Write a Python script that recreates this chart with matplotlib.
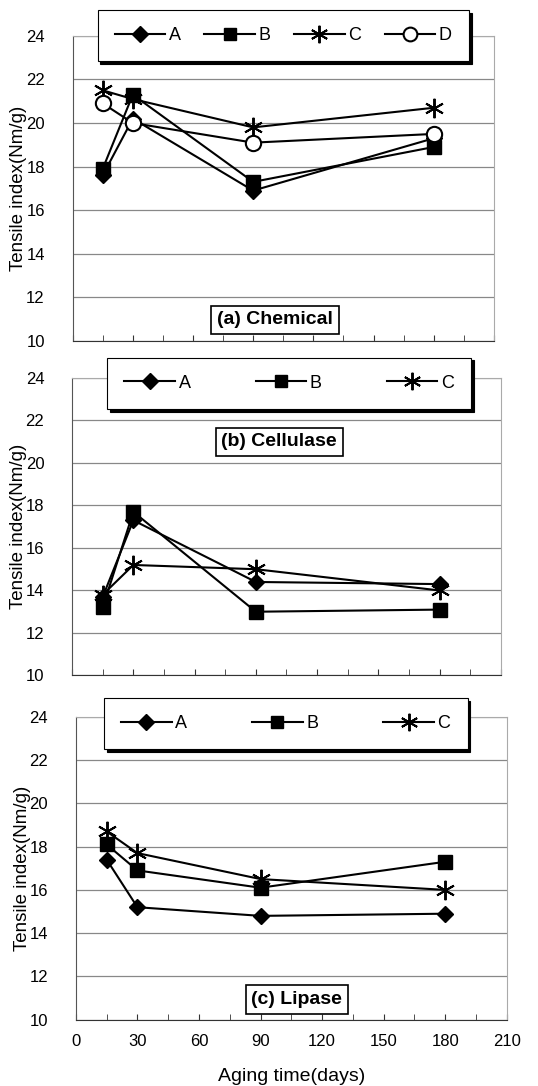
"""Tensile index vs aging time for chemical, cellulase and lipase treatments."""

import matplotlib
matplotlib.use("Agg")
import matplotlib.pyplot as plt
import numpy as np

days = [15, 30, 90, 180]

chem_a = [17.6, 20.2, 16.9, 19.3]
chem_b = [17.9, 21.3, 17.3, 18.9]
chem_c = [21.5, 21.1, 19.8, 20.7]
chem_d = [20.9, 20.0, 19.1, 19.5]

cell_a = [13.7, 17.3, 14.4, 14.3]
cell_b = [13.2, 17.7, 13.0, 13.1]
cell_c = [13.8, 15.2, 15.0, 14.0]

lip_a = [17.4, 15.2, 14.8, 14.9]
lip_b = [18.1, 16.9, 16.1, 17.3]
lip_c = [18.7, 17.7, 16.5, 16.0]

x_ticks = [0, 30, 60, 90, 120, 150, 180, 210]
y_ticks = [10, 12, 14, 16, 18, 20, 22, 24]

ASTERISK = (6, 2, 0)
STYLES = {
    "A": dict(marker="D", ms=8.5, mfc="black", mec="black"),
    "B": dict(marker="s", ms=10, mfc="black", mec="black"),
    "C": dict(marker=ASTERISK, ms=14, mfc="black", mec="black", mew=1.4),
    "D": dict(marker="o", ms=11, mfc="white", mec="black", mew=1.5),
}

plt.rcParams["font.family"] = ["Liberation Sans", "DejaVu Sans"]

fig = plt.figure(figsize=(5.38, 10.86), dpi=100)

panels = [
    # rect, series, label, legend anchor, tag position
    ([0.135, 0.686, 0.783, 0.281], {"A": chem_a, "B": chem_b, "C": chem_c, "D": chem_d},
     "(a) Chemical", (0.50, 1.0), (0.48, 0.069)),
    ([0.134, 0.378, 0.797, 0.274], {"A": cell_a, "B": cell_b, "C": cell_c},
     "(b) Cellulase", (0.506, 0.982), (0.483, 0.785)),
    ([0.141, 0.061, 0.801, 0.279], {"A": lip_a, "B": lip_b, "C": lip_c},
     "(c) Lipase", (0.487, 0.978), (0.513, 0.066)),
]

for i, (rect, series, tag, leg_pos, tag_pos) in enumerate(panels):
    ax = fig.add_axes(rect)
    for name, vals in series.items():
        ax.plot(days, vals, color="black", lw=1.5, label=name, **STYLES[name])

    ax.set_xlim(0, 210)
    ax.set_ylim(10, 24)
    ax.set_yticks(y_ticks)
    ax.set_xticks(x_ticks)
    ax.set_xticks(np.arange(15, 210, 30), minor=True)
    ax.tick_params(axis="x", which="both", direction="in", length=4, color="#333333")
    ax.tick_params(axis="y", length=0, labelsize=12, pad=20)
    ax.yaxis.grid(True, color="#888888", lw=0.9)
    ax.set_axisbelow(True)
    for side in ("top", "right"):
        ax.spines[side].set_color("#aaaaaa")
        ax.spines[side].set_linewidth(0.8)
    ax.spines["left"].set_color("#555555")
    ax.spines["bottom"].set_color("#333333")

    if i == 2:
        ax.tick_params(axis="x", labelsize=12, pad=10)
        ax.set_xlabel("Aging time(days)", fontsize=14, labelpad=14)
    else:
        ax.tick_params(axis="x", labelbottom=False)
    ax.set_ylabel("Tensile index(Nm/g)", fontsize=13.5, labelpad=-1)

    leg = ax.legend(loc="center", bbox_to_anchor=leg_pos, ncol=len(series),
                    frameon=True, fancybox=False, shadow={"color": "black", "alpha": 1},
                    edgecolor="black", fontsize=13, handlelength=2.8,
                    columnspacing=3.6 if len(series) == 3 else 1.3,
                    borderpad=0.95, handletextpad=0.2, markerscale=0.9)
    leg.get_frame().set_linewidth(0.8)
    leg.set_zorder(10)

    ax.text(tag_pos[0], tag_pos[1], tag, transform=ax.transAxes, ha="center", va="center",
            fontsize=14, fontweight="bold", zorder=10,
            bbox=dict(boxstyle="square,pad=0.3", fc="white", ec="black", lw=1.2))

fig.savefig("out.png", dpi=100)
